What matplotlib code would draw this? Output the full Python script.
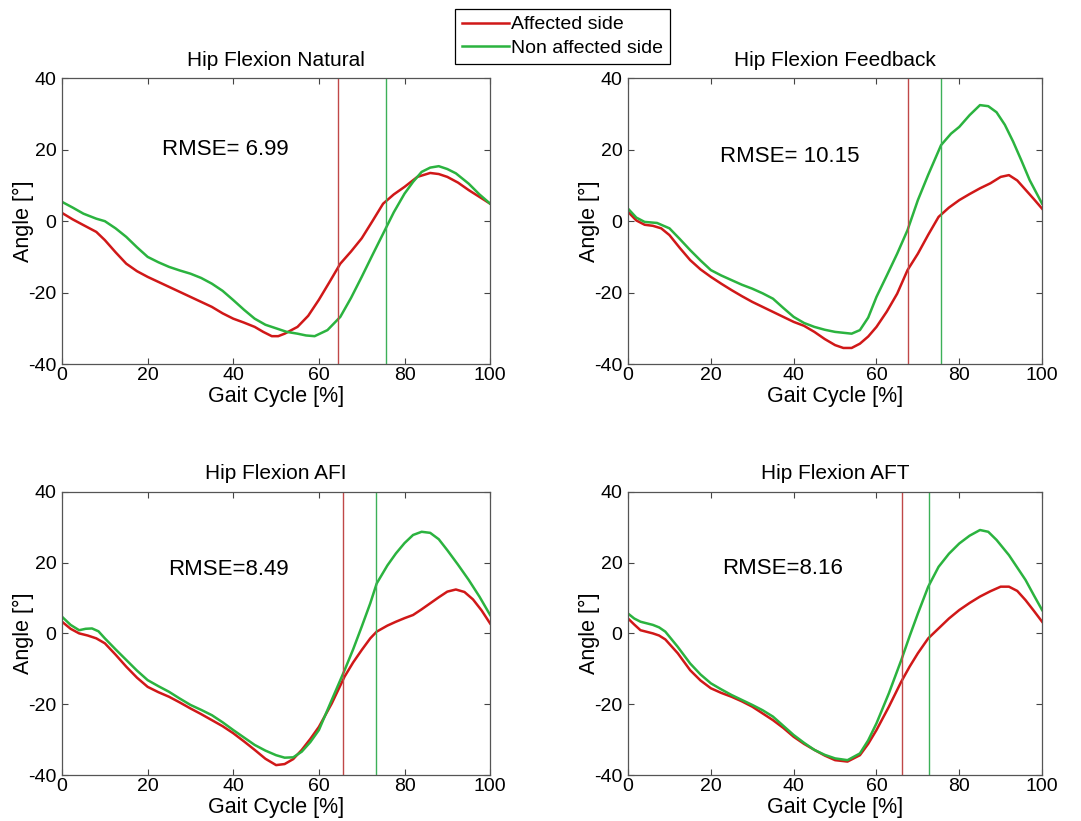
import matplotlib
matplotlib.use("Agg")
import matplotlib.pyplot as plt

plt.rcParams["font.family"] = ["Liberation Sans", "DejaVu Sans"]
plt.rcParams["axes.unicode_minus"] = False

RED = "#d01818"
GREEN = "#2bb33f"
RED_THIN = "#c04848"
GREEN_THIN = "#3cb058"

titles = ["Hip Flexion Natural", "Hip Flexion Feedback", "Hip Flexion AFI", "Hip Flexion AFT"]
rmse_labels = ["RMSE= 6.99", "RMSE= 10.15", "RMSE=8.49", "RMSE=8.16"]
rmse_pos = [(23.4, 20.1), (22.1, 18.0), (24.7, 18.1), (22.7, 18.4)]
red_toe_off = [64.5, 67.5, 65.7, 66.1]
green_toe_off = [75.6, 75.6, 73.3, 72.6]

# Natural
nat_red_x = [0, 2.5, 5, 8, 10, 12.5, 15, 17.5, 20, 22.5, 25, 27.5, 30, 32.5, 35, 37.5, 40, 42.5, 45, 47,
             49, 50.5, 52, 55, 57.5, 60, 62.5, 65, 67.5, 70, 72.5, 75, 77.5, 80, 83, 86, 88, 90, 92.5, 95,
             97.5, 100]
nat_red_y = [2.3, 0.5, -1.1, -3.0, -5.3, -8.7, -11.9, -14.0, -15.6, -17.0, -18.4, -19.8, -21.2, -22.6,
             -24.0, -25.8, -27.3, -28.4, -29.6, -31.0, -32.2, -32.2, -31.5, -29.6, -26.5, -22.0, -17.0,
             -11.9, -8.5, -4.8, 0.0, 4.9, 7.5, 9.6, 12.4, 13.5, 13.2, 12.4, 10.8, 8.7, 6.8, 4.9]
nat_green_x = [0, 2.5, 5, 8, 10, 12.5, 15, 17.5, 20, 22.5, 25, 27.5, 30, 32.5, 35, 37.5, 40, 42.5, 45,
               47.5, 50, 52.5, 55, 57, 59, 62, 65, 67.5, 70, 72.5, 75, 77.5, 80, 82, 84, 86, 88, 90, 92,
               95, 97.5, 100]
nat_green_y = [5.4, 3.8, 2.1, 0.7, 0.0, -2.0, -4.4, -7.3, -10.0, -11.5, -12.8, -13.8, -14.7, -15.9,
               -17.5, -19.5, -22.1, -24.8, -27.3, -29.0, -30.0, -31.0, -31.5, -32.0, -32.2, -30.5, -26.8,
               -21.5, -15.6, -9.5, -3.5, 2.5, 7.7, 11.0, 13.8, 15.0, 15.4, 14.6, 13.4, 10.5, 7.5, 4.9]

# Feedback
fb_red_x = [0, 2, 4, 6, 8, 10, 12.5, 15, 17.5, 20, 22.5, 25, 27.5, 30, 32.5, 35, 37.5, 40, 42.5, 45, 47.5,
            50, 52, 54, 56, 58, 60, 62.5, 65, 67.5, 70, 72.5, 75, 77.5, 80, 82.5, 85, 87.5, 90, 92, 94, 96,
            98, 100]
fb_red_y = [2.6, 0.2, -1.0, -1.3, -2.0, -3.9, -7.5, -10.9, -13.5, -15.6, -17.5, -19.3, -21.0, -22.6,
            -24.0, -25.4, -26.8, -28.2, -29.3, -31.0, -33.0, -34.7, -35.5, -35.5, -34.3, -32.3, -29.6,
            -25.3, -20.3, -13.7, -9.1, -3.8, 1.2, 3.8, 5.9, 7.6, 9.2, 10.6, 12.4, 12.9, 11.4, 8.8, 6.2, 3.5]
fb_green_x = [0, 2, 4, 7, 10, 12.5, 15, 17.5, 20, 22.5, 25, 27.5, 30, 32.5, 35, 37.5, 40, 42.5, 45, 47.5,
              50, 54, 56, 58, 60, 62.5, 65, 67.5, 70, 72.5, 75.6, 78, 80, 82.5, 85, 87, 89, 91, 93, 95,
              97, 100]
fb_green_y = [3.5, 1.0, -0.2, -0.5, -2.0, -5.0, -8.1, -11.0, -13.7, -15.2, -16.5, -17.8, -18.9, -20.2,
              -21.7, -24.3, -26.8, -28.5, -29.6, -30.4, -31.0, -31.5, -30.5, -27.0, -21.2, -15.2, -9.1,
              -2.5, 5.9, 13.0, 21.3, 24.5, 26.4, 29.7, 32.5, 32.2, 30.5, 27.0, 22.3, 17.0, 11.5, 4.9]

# AFI
afi_red_x = [0, 2, 4, 6, 8, 10, 12.5, 15, 17.5, 20, 22.5, 25, 27.5, 30, 32.5, 35, 37.5, 40, 42.5, 45,
             47.5, 50, 52, 54, 56, 58, 60, 63, 66, 68, 70, 72, 73.5, 76, 78, 80, 82, 84, 86, 88, 90, 92,
             94, 96, 98, 100]
afi_red_y = [3.3, 1.3, 0.0, -0.6, -1.4, -2.8, -6.0, -9.4, -12.5, -15.1, -16.6, -17.9, -19.5, -21.2,
             -22.8, -24.5, -26.2, -28.2, -30.5, -32.9, -35.4, -37.2, -36.9, -35.5, -32.9, -29.8, -26.4,
             -19.8, -12.2, -8.2, -4.7, -1.4, 0.5, 2.2, 3.3, 4.3, 5.2, 6.8, 8.5, 10.2, 11.8, 12.4, 11.7,
             9.6, 6.5, 2.8]
afi_green_x = [0, 2, 4, 5.5, 7, 8.5, 10, 12.5, 15, 17.5, 20, 22.5, 25, 27.5, 30, 32.5, 35, 37.5, 40,
               42.5, 45, 47.5, 50, 52, 54, 56, 58, 60, 63, 66, 68, 70, 72, 73.5, 76, 78, 80, 82, 84, 86,
               88, 90, 92.5, 95, 97.5, 100]
afi_green_y = [4.7, 2.4, 0.9, 1.3, 1.4, 0.6, -1.4, -4.5, -7.5, -10.5, -13.2, -14.9, -16.5, -18.4, -20.2,
               -21.6, -23.1, -25.1, -27.3, -29.4, -31.5, -33.1, -34.4, -35.1, -35.0, -33.4, -30.7, -27.3,
               -18.8, -10.4, -4.5, 1.9, 8.5, 14.1, 19.2, 22.6, 25.5, 27.8, 28.7, 28.4, 26.6, 23.5, 19.4,
               15.1, 10.4, 5.2]

# AFT
aft_red_x = [0, 1.5, 3, 6, 7.5, 9, 12, 15, 17.5, 20, 22.5, 25, 27.5, 30, 32.5, 35, 37.5, 40, 42.5, 45,
             47.5, 50, 53, 56, 58, 60, 63, 66, 68, 70, 72.5, 75, 77.5, 80, 82.5, 85, 87.5, 90, 92, 94, 96,
             98, 100]
aft_red_y = [4.2, 2.5, 0.9, 0.0, -0.6, -1.7, -5.6, -10.4, -13.3, -15.5, -16.8, -17.9, -19.2, -20.7,
             -22.6, -24.5, -26.7, -29.2, -31.2, -32.9, -34.5, -35.8, -36.2, -34.4, -31.2, -27.3, -20.7,
             -13.6, -9.4, -5.6, -1.4, 1.4, 4.2, 6.6, 8.6, 10.4, 11.9, 13.2, 13.2, 12.0, 9.4, 6.4, 3.3]
aft_green_x = [0, 1.5, 3, 6, 7.5, 9, 12, 15, 17.5, 20, 22.5, 25, 27.5, 30, 32.5, 35, 37.5, 40, 42.5, 45,
               47.5, 50, 53, 56, 58, 60, 63, 66, 68, 70, 72.5, 75, 77.5, 80, 82.5, 85, 87, 89, 92, 94,
               96, 98, 100]
aft_green_y = [5.6, 4.2, 3.3, 2.4, 1.7, 0.5, -3.8, -8.5, -11.6, -14.1, -15.8, -17.4, -18.8, -20.2,
               -21.7, -23.5, -26.1, -28.7, -30.9, -32.9, -34.3, -35.3, -35.8, -33.9, -30.2, -25.4,
               -16.9, -7.5, -0.8, 5.6, 13.2, 18.8, 22.5, 25.4, 27.6, 29.2, 28.7, 26.4, 22.1, 18.6, 15.1,
               10.8, 6.6]

red_series = [(nat_red_x, nat_red_y), (fb_red_x, fb_red_y), (afi_red_x, afi_red_y), (aft_red_x, aft_red_y)]
green_series = [(nat_green_x, nat_green_y), (fb_green_x, fb_green_y),
                (afi_green_x, afi_green_y), (aft_green_x, aft_green_y)]

# axes rectangles in figure fraction (left, bottom, width, height)
rects = [
    (0.0574, 0.5566, 0.396, 0.348),
    (0.581, 0.5566, 0.383, 0.348),
    (0.0574, 0.056, 0.396, 0.345),
    (0.581, 0.056, 0.383, 0.345),
]

fig = plt.figure(figsize=(10.81, 8.21), dpi=100)
handles = None
for i in range(4):
    ax = fig.add_axes(rects[i])
    rx, ry = red_series[i]
    gx, gy = green_series[i]
    h_red, = ax.plot(rx, ry, color=RED, lw=1.8, label="Affected side")
    h_green, = ax.plot(gx, gy, color=GREEN, lw=1.8, label="Non affected side")
    ax.axvline(red_toe_off[i], color=RED_THIN, lw=1.0)
    ax.axvline(green_toe_off[i], color=GREEN_THIN, lw=1.0)
    handles = [h_red, h_green]

    ax.set_xlim(0, 100)
    ax.set_ylim(-40, 40)
    ax.set_xticks(range(0, 101, 20))
    ax.set_yticks(range(-40, 41, 20))
    ax.tick_params(direction="in", top=True, right=True, labelsize=14, length=4,
                   color="#444444")
    ax.tick_params(axis="x", pad=2)
    ax.tick_params(axis="y", pad=4)
    for spine in ax.spines.values():
        spine.set_color("#555555")
        spine.set_linewidth(0.9)
    ax.set_title(titles[i], fontsize=15, pad=9)
    ax.set_xlabel("Gait Cycle [%]", fontsize=15.5, labelpad=1.5)
    ax.set_ylabel("Angle [°]", fontsize=15.5, labelpad=-4)
    tx, ty = rmse_pos[i]
    ax.text(tx, ty, rmse_labels[i], fontsize=16, va="center", ha="left")

leg = fig.legend(handles, ["Affected side", "Non affected side"], loc="upper left",
                 bbox_to_anchor=(0.421, 0.989), fontsize=14, fancybox=False,
                 edgecolor="black", handlelength=2.4, handletextpad=0.15,
                 borderpad=0.35, labelspacing=0.3, borderaxespad=0, framealpha=1)
leg.get_frame().set_linewidth(0.9)

fig.savefig("out.png", dpi=100)
